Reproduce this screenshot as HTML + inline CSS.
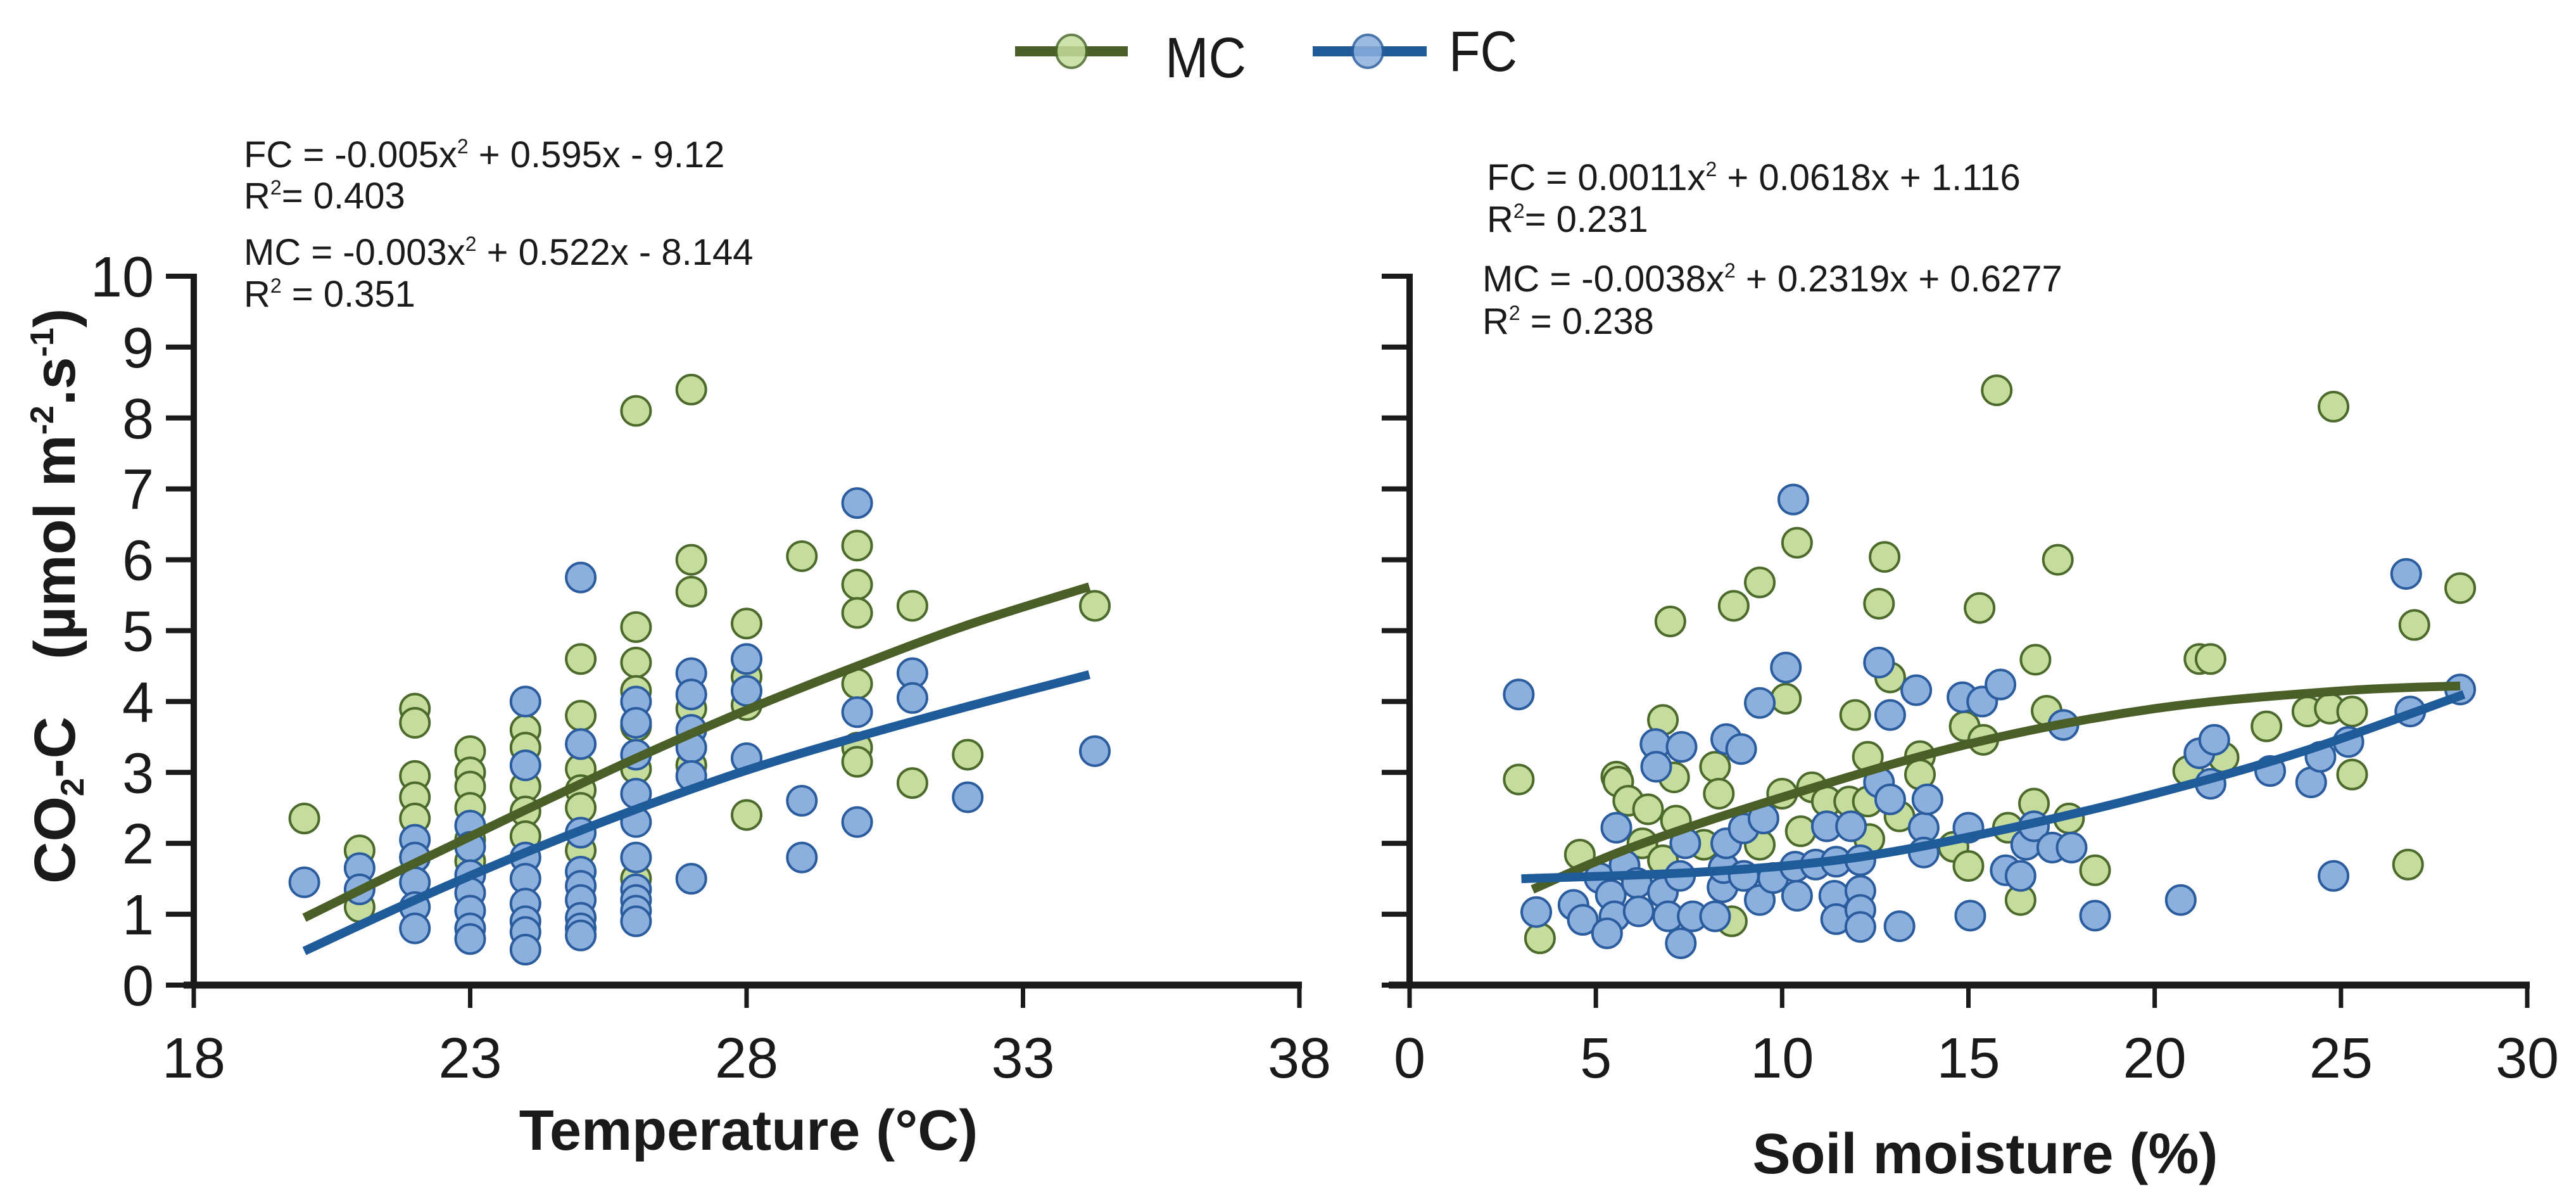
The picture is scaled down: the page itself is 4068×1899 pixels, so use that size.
<!DOCTYPE html>
<html><head><meta charset="utf-8"><style>
html,body{margin:0;padding:0;background:#fff;}
svg{display:block;font-family:"Liberation Sans",Arial,sans-serif;}
</style></head><body>
<svg id="chart" xmlns="http://www.w3.org/2000/svg" width="4068" height="1899" viewBox="0 0 4068 1899">
<rect width="4068" height="1899" fill="#fff"/>
<g id="legend">
 <g>
  <line x1="1603" y1="81" x2="1781" y2="81" stroke="#4a5e28" stroke-width="16"/>
  <ellipse cx="1692" cy="81" rx="24" ry="26" fill="#c5dc9c" stroke="#4b6a2b" stroke-width="4" opacity="0.85"/>
  <text x="1840" y="122" font-size="90" fill="#1a1a1a" textLength="128" lengthAdjust="spacingAndGlyphs">MC</text>
 </g>
 <g>
  <line x1="2073" y1="81" x2="2253" y2="81" stroke="#1f5b99" stroke-width="16"/>
  <ellipse cx="2160" cy="81" rx="24" ry="26" fill="#8cb0de" stroke="#2b5d9e" stroke-width="4" opacity="0.85"/>
  <text x="2288" y="112" font-size="90" fill="#1a1a1a" textLength="108" lengthAdjust="spacingAndGlyphs">FC</text>
 </g>
</g>
<g font-size="58" fill="#1a1a1a">
 <text x="385" y="264">FC = -0.005x<tspan dy="-22" font-size="32">2</tspan><tspan dy="22"> + 0.595x - 9.12</tspan></text>
 <text x="385" y="329">R<tspan dy="-22" font-size="32">2</tspan><tspan dy="22">= 0.403</tspan></text>
 <text x="385" y="418">MC = -0.003x<tspan dy="-22" font-size="32">2</tspan><tspan dy="22"> + 0.522x - 8.144</tspan></text>
 <text x="385" y="484">R<tspan dy="-22" font-size="32">2</tspan><tspan dy="22"> = 0.351</tspan></text>
</g>
<g font-size="58" fill="#1a1a1a">
 <text x="2348" y="300">FC = 0.0011x<tspan dy="-22" font-size="32">2</tspan><tspan dy="22"> + 0.0618x + 1.116</tspan></text>
 <text x="2348" y="366">R<tspan dy="-22" font-size="32">2</tspan><tspan dy="22">= 0.231</tspan></text>
 <text x="2341" y="460">MC = -0.0038x<tspan dy="-22" font-size="32">2</tspan><tspan dy="22"> + 0.2319x + 0.6277</tspan></text>
 <text x="2341" y="527">R<tspan dy="-22" font-size="32">2</tspan><tspan dy="22"> = 0.238</tspan></text>
</g>
<text transform="translate(118,1395) rotate(-90)" text-anchor="start" font-size="92" font-weight="bold" fill="#1a1a1a">CO<tspan font-size="52" dy="14">2</tspan><tspan dy="-14">-C</tspan><tspan dx="90">(µmol m</tspan><tspan font-size="52" dy="-34">-2</tspan><tspan dy="34">.s</tspan><tspan font-size="52" dy="-34">-1</tspan><tspan dy="34">)</tspan></text>
<text x="1182" y="1815" text-anchor="middle" font-size="90" font-weight="bold" fill="#1a1a1a">Temperature (°C)</text>
<text x="3135" y="1852" text-anchor="middle" font-size="90" font-weight="bold" fill="#1a1a1a">Soil moisture (%)</text>
<g id="plots"></g>
</svg>
<script>
// ---- data ----
const yTicks = [0,1,2,3,4,5,6,7,8,9,10];
const tempTicks = [18,23,28,33,38];
const moistTicks = [0,5,10,15,20,25,30];

const tempMC_x = [20,21,21,22,22,22,22,22,22,23,23,23,23,23,23,24,24,24,24,24,25,25,25,25,25,25,26,26,26,26,26,26,26,27,27,27,27,27,28,28,28,28,29,30,30,30,30,30,30,31,31,32,34.3];
const tempMC_y = [2.35,1.9,1.1,3.9,3.7,2.95,2.65,2.35,1.8,3.3,3.0,2.8,2.5,2.05,1.75,3.6,3.35,2.8,2.45,2.1,4.6,3.8,3.05,2.75,2.5,1.9,8.1,5.05,4.55,4.15,3.65,3.05,1.5,8.4,6.0,5.55,3.9,3.1,5.1,4.35,3.95,2.4,6.05,6.2,5.65,5.25,4.25,3.35,3.15,5.35,2.85,3.25,5.35];
const tempFC_x = [20,21,21,22,22,22,22,22,23,23,23,23,23,23,23,24,24,24,24,24,24,24,24,25,25,25,25,25,25,25,25,25,26,26,26,26,26,26,26,26,26,26,27,27,27,27,27,27,28,28,28,29,29,30,30,30,31,31,32,34.3];
const tempFC_y = [1.45,1.65,1.35,2.05,1.8,1.45,1.1,0.8,2.25,1.95,1.55,1.3,1.05,0.8,0.65,4.0,3.1,1.8,1.5,1.15,0.9,0.75,0.5,5.75,3.4,2.15,1.6,1.4,1.2,0.95,0.8,0.7,4.0,3.7,3.25,2.7,2.3,1.8,1.35,1.2,1.05,0.9,4.4,4.1,3.6,3.35,2.95,1.5,4.6,4.15,3.2,2.6,1.8,6.8,3.85,2.3,4.4,4.05,2.65,3.3];

const tempCurveMC_x = [20,22,24,26,28,30,32,34.2];
const tempCurveMC_y = [0.95,1.72,2.47,3.2,3.88,4.5,5.08,5.62];
const tempCurveFC_x = [20,22,24,26,28,30,32,34.2];
const tempCurveFC_y = [0.48,1.2,1.87,2.48,3.03,3.5,3.93,4.38];

const moistMC_x = [2.93,3.5,4.57,5.55,5.6,5.87,6.4,6.25,6.8,7.0,7.1,7.15,6.8,8.2,8.3,8.7,8.65,7.9,9.4,9.4,10.0,10.1,10.4,10.5,10.8,11.2,11.96,11.8,12.3,12.3,12.34,12.6,12.75,12.9,13.15,13.7,13.7,14.6,14.9,15.0,15.4,15.3,15.76,16.06,16.4,16.76,16.8,17.1,17.4,17.7,18.4,20.9,21.2,21.5,21.85,23.0,24.1,24.7,24.8,25.3,25.3,26.8,26.97,28.2];
const moistMC_y = [2.9,0.66,1.84,2.94,2.87,2.6,2.48,2.0,3.74,5.13,2.93,2.32,1.76,3.08,2.7,5.35,0.9,1.98,5.68,1.98,2.7,4.04,6.24,2.17,2.79,2.59,3.81,2.59,3.22,2.59,2.06,5.38,6.04,4.34,2.38,3.23,2.97,1.95,3.65,1.68,3.46,5.32,8.39,2.22,1.2,2.56,4.59,3.87,6.0,2.35,1.62,3.02,4.6,4.6,3.21,3.65,3.86,3.9,8.16,3.86,2.97,1.7,5.08,5.6];
const moistFC_x = [2.93,3.4,4.4,4.65,5.1,5.55,5.4,5.5,5.3,5.77,6.1,6.15,6.6,6.62,7.3,6.8,6.94,7.28,7.26,7.4,7.6,8.2,8.4,8.43,8.5,8.5,8.9,8.97,8.97,9.4,9.4,9.5,9.76,10.1,10.3,10.35,10.4,10.9,11.2,11.45,11.4,11.45,11.85,12.1,12.1,12.1,12.1,12.6,12.6,12.9,12.9,13.15,13.6,13.8,13.8,13.9,14.84,15.0,15.05,15.37,15.86,16.0,16.4,16.55,16.76,17.25,17.55,17.77,18.4,20.7,21.2,21.5,21.6,23.1,24.2,24.45,24.8,25.2,26.75,26.86,28.2];
const moistFC_y = [4.1,1.03,1.13,0.92,1.51,2.22,1.27,0.97,0.73,1.69,1.44,1.04,3.4,3.08,3.36,1.31,0.97,0.59,1.54,2.0,0.97,0.97,1.38,1.65,3.47,2.0,3.33,2.21,1.54,3.98,1.2,2.35,1.51,4.48,6.85,1.67,1.26,1.7,2.24,1.74,1.26,0.93,2.24,1.76,1.33,1.06,0.82,2.86,4.55,3.81,2.62,0.83,4.16,2.22,1.87,2.62,4.06,2.22,0.98,4.0,4.24,1.62,1.54,1.98,2.24,1.94,3.67,1.94,0.98,1.2,3.27,2.84,3.46,3.02,2.86,3.22,1.54,3.43,5.8,3.86,4.17];

const moistCurveMC_x = [3.3,6,10,15,20,25,28.2];
const moistCurveMC_y = [1.35,1.95,2.65,3.4,3.9,4.15,4.22];
const moistCurveFC_x = [3,8,12,16,20,24,28.3];
const moistCurveFC_y = [1.5,1.6,1.8,2.2,2.7,3.3,4.1];

// ---- drawing ----
const NS = "http://www.w3.org/2000/svg";
const root = document.getElementById('plots');
function mk(tag, attrs, parent){const e=document.createElementNS(NS,tag);for(const k in attrs)e.setAttribute(k,attrs[k]);(parent||root).appendChild(e);return e;}
const Y0=1555, Y10=436;
function sy(v){return Y0+(Y10-Y0)*v/10;}
function scaleX(x0,x1,p0,p1){return v=>p0+(v-x0)*(p1-p0)/(x1-x0);}
const sxT = scaleX(18,38,306,2052);
const sxM = scaleX(0,30,2226,3991);

function smoothPath(xs,ys,sx){
  const p=xs.map((x,i)=>[sx(x),sy(ys[i])]);
  let d='M'+p[0][0]+','+p[0][1];
  for(let i=0;i<p.length-1;i++){
    const p0=p[i-1]||p[i],p1=p[i],p2=p[i+1],p3=p[i+2]||p2;
    const c1=[p1[0]+(p2[0]-p0[0])/6,p1[1]+(p2[1]-p0[1])/6];
    const c2=[p2[0]-(p3[0]-p1[0])/6,p2[1]-(p3[1]-p1[1])/6];
    d+=' C'+c1+' '+c2+' '+p2;
  }
  return d;
}

function axes(name, sx, ticks, axisStart, yLabels){
  const g=mk('g',{});
  
  
  const xmin=sx(ticks[0]), xmax=sx(ticks[ticks.length-1]);
  mk('line',{x1:xmin,y1:Y0+4,x2:xmin,y2:sy(10)-4,stroke:'#1a1a1a','stroke-width':10},g);
  mk('line',{x1:axisStart,y1:Y0,x2:xmax+4,y2:Y0,stroke:'#1a1a1a','stroke-width':11},g);
  yTicks.forEach(t=>{
    const l=mk('line',{x1:xmin-44,y1:sy(t),x2:xmin,y2:sy(t),stroke:'#1a1a1a','stroke-width':8},g);
    
    
    if(yLabels){
      const tx=mk('text',{x:243,y:sy(t)+32,'text-anchor':'end','font-size':90,fill:'#1a1a1a'},g);
      
      
      tx.textContent=t;
    }
  });
  ticks.forEach(t=>{
    const l=mk('line',{x1:sx(t),y1:Y0,x2:sx(t),y2:Y0+36,stroke:'#1a1a1a','stroke-width':7},g);
    
    
    const tx=mk('text',{x:sx(t),y:1701,'text-anchor':'middle','font-size':90,fill:'#1a1a1a'},g);
    
    
    tx.textContent=t;
  });
}

function points(name, xs, ys, sx, fill, stroke){
  const g=mk('g',{});
  
  
  xs.forEach((x,i)=>{
    const c=mk('circle',{cx:sx(x),cy:sy(ys[i]),r:23,fill:fill,stroke:stroke,'stroke-width':4},g);
    
    
  });
}
function curve(name, xs, ys, sx, color){
  const p=mk('path',{d:smoothPath(xs,ys,sx),fill:'none',stroke:color,'stroke-width':14,'stroke-linecap':'butt'});
  
  
}

const GF='#c5dc9c', GS='#4b6a2b', BF='#8cb0de', BS='#2b5d9e', GL='#4a5e28', BL='#1f5b99';
axes('temperature', sxT, tempTicks, 290, true);
points('temperature-mc', tempMC_x, tempMC_y, sxT, GF, GS);
points('temperature-fc', tempFC_x, tempFC_y, sxT, BF, BS);
curve('temperature-mc-fit', tempCurveMC_x, tempCurveMC_y, sxT, GL);
curve('temperature-fc-fit', tempCurveFC_x, tempCurveFC_y, sxT, BL);

axes('moisture', sxM, moistTicks, 2193, false);
points('moisture-mc', moistMC_x, moistMC_y, sxM, GF, GS);
points('moisture-fc', moistFC_x, moistFC_y, sxM, BF, BS);
curve('moisture-mc-fit', moistCurveMC_x, moistCurveMC_y, sxM, GL);
curve('moisture-fc-fit', moistCurveFC_x, moistCurveFC_y, sxM, BL);
</script>
</body></html>
